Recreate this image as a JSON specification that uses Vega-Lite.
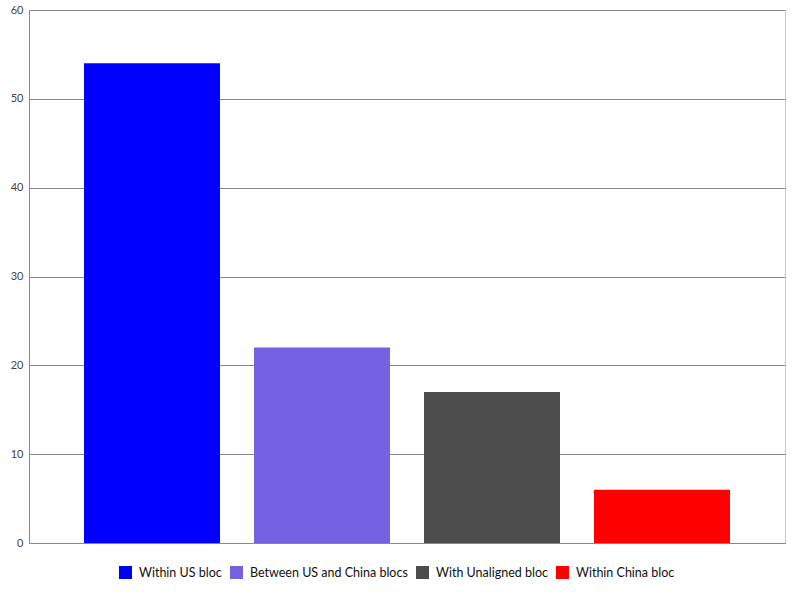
{
  "$schema": "https://vega.github.io/schema/vega-lite/v6.json",
  "width": 756,
  "height": 533,
  "autosize": {"type": "none"},
  "padding": {"left": 29, "top": 10, "right": 15, "bottom": 57},
  "background": "white",
  "data": {"values": [
    {"category": "Within US bloc", "value": 54},
    {"category": "Between US and China blocs", "value": 22},
    {"category": "With Unaligned bloc", "value": 17},
    {"category": "Within China bloc", "value": 6}
  ]},
  "mark": {"type": "bar"},
  "encoding": {
    "x": {
      "field": "category", "type": "nominal",
      "sort": ["Within US bloc", "Between US and China blocs", "With Unaligned bloc", "Within China bloc"],
      "scale": {"paddingInner": 0.2, "paddingOuter": 0.3235},
      "axis": {"labels": false, "ticks": false, "title": null, "domain": true, "domainColor": "#888888", "domainWidth": 1}
    },
    "y": {
      "field": "value", "type": "quantitative",
      "scale": {"domain": [0, 60], "nice": false},
      "axis": {"values": [0, 10, 20, 30, 40, 50, 60], "title": null, "ticks": false, "labelPadding": 6, "labelFont": "Lato", "labelFontSize": 11, "labelColor": "#444444", "domainColor": "#888888", "gridColor": "#888888", "gridOpacity": 1, "grid": true}
    },
    "color": {
      "field": "category", "type": "nominal",
      "sort": ["Within US bloc", "Between US and China blocs", "With Unaligned bloc", "Within China bloc"],
      "scale": {"range": ["#0000ff", "#7462e0", "#4d4d4d", "#ff0000"]},
      "legend": {"orient": "none", "legendX": 90, "legendY": 556, "direction": "horizontal", "title": null, "symbolType": "square", "symbolSize": 169, "symbolStrokeWidth": 0, "symbolOpacity": 1, "labelFont": "Lato", "labelFontSize": 12.5, "labelColor": "#111111", "labelLimit": 0, "columnPadding": 8, "labelOffset": 7}
    }
  },
  "config": {"view": {"stroke": "#cccccc"}}
}
